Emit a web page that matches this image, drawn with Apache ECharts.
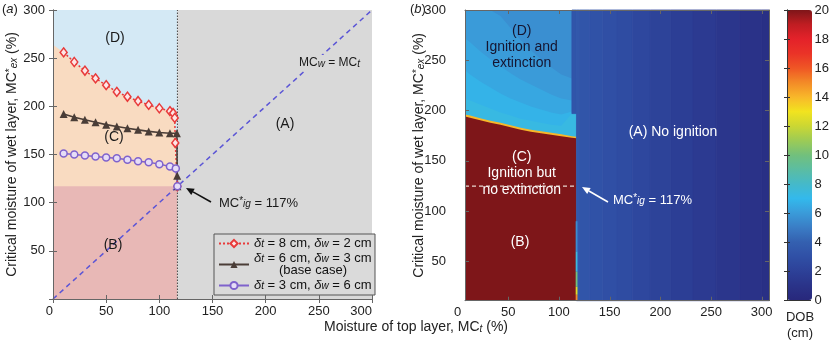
<!DOCTYPE html>
<html><head><meta charset="utf-8">
<script src="https://cdn.jsdelivr.net/npm/echarts@6/dist/echarts.min.js"></script>
<style>html,body{margin:0;padding:0;background:#fff}#c{width:832px;height:341px}</style>
</head><body><div id="c"></div>
<script>
// ================= Panel (a) data =================
const MC_IG = 117;                 // critical ignition moisture (%)
const axisMaxA = 300;
const mcT_case1 = [10,20,30,40,50,60,70,80,90,100,110,113,114.5,115,117];
const mcEx_case1 = [256,246,237,229,222,215,210,205.5,201.5,198,195,193,188,162,117];
const mcT_case2 = [10,20,30,40,50,60,70,80,90,100,110,116.5,116.8,117];
const mcEx_case2 = [192,188.7,186,183.5,181,179,177.3,175.6,174,172.8,172.1,172,128,117];
const mcT_case3 = [10,20,30,40,50,60,70,80,90,100,110,115.5,117];
const mcEx_case3 = [151,150,149,148,147,146,144.5,143,142,140,137.5,135.5,117];
// boundary between regions (C) and (D) (extends case 1 curve to MC_t = 0)
const regionCTopX = [0].concat(mcT_case1);
const regionCTopY = [264].concat(mcEx_case1);
// rectangular regions (D), (B), (A)
const regionX0 = [0, 0, MC_IG];
const regionX1 = [MC_IG, MC_IG, axisMaxA];
const regionY0 = [0, 0, 0];
const regionY1 = [axisMaxA, MC_IG, axisMaxA];
const diagT = [0, 300];

// ================= Panel (b) data (DOB, cm) =================
const yMinB = 11, yMaxB = 300;
const contourX  = [7, 12, 22, 32, 42, 52, 62, 72, 82, 92, 102, 112.5, 117];
const ignTop    = [194, 193, 190.5, 188, 186, 183.5, 181, 179, 177.5, 176, 174.5, 173, 172.5];
const fringeTop = [196, 195, 192.5, 190, 188, 185.5, 183, 181, 179.5, 178, 176.5, 174.5, 174];
const cont7     = [212, 210, 206, 202, 198, 195, 192, 190, 188, 186, 185, 197, 197];
const cont65    = [240, 236, 229, 223, 217, 212, 208, 204, 201, 198, 196, 199, 199];
const cont6     = [272, 268, 259, 251, 244, 237, 231, 226, 221, 216, 212, 210, 210];
const cont58    = [300, 300, 300, 300, 294, 282, 270, 260, 251, 243, 236, 232, 232];
const capTop    = contourX.map(() => yMaxB);
const bandDOB   = [5.6, 6.0, 6.4, 6.8, 7.3, 14, 20];
const bandTops  = [capTop, cont58, cont6, cont65, cont7, fringeTop, ignTop];
// region (A) columns
const aEdges  = [112.5, 117, 120, 130, 143, 157, 172, 190, 210, 232, 255, 278, 300, 307];
const aBottom = [197, 11, 11, 11, 11, 11, 11, 11, 11, 11, 11, 11, 11];
const aDOB    = [3.3, 3.5, 3.3, 3.1, 2.9, 2.7, 2.4, 2.1, 1.8, 1.5, 1.2, 0.9, 0.7];
// thin transition stripe at MC_t = MC_ig
const stripeX  = [116.2, 118];
const stripeYEdges = [11, 17, 25, 40, 60, 90];
const stripeDOB = [15, 12.5, 10, 7.5, 5.5];
const mcIgLineB = 125;   // dashed line as drawn in panel (b)
const mcIgLineBX = [7, 117];
// colour bar
const dobMin = 0, dobMax = 20, dobStep = 2;
const cmap = ['#28287b','#2a3389','#2d4198','#3050a6','#3460b0','#3a7dc5','#3a9bd9','#33b9ec',
  '#45b9c9','#5bbda2','#72c07c','#9dcb55','#cbd733','#f2e31f','#f8b72a','#f38a27','#ef5625',
  '#ea3327','#e4222a','#c01d22','#7e1619'];

// ================= chart =================
const FONT = 'Liberation Sans, Arial, Helvetica, sans-serif';
const chart = echarts.init(document.getElementById('c'));
const zip = (a, b) => a.map((v, i) => [v, b[i]]);
const regionColors = ['#d4e9f5', '#e8b8b6', '#d9d9d9'];
const richSS = {
  it: {fontStyle: 'italic'},
  sub: {fontSize: 10, verticalAlign: 'bottom', fontStyle: 'italic'},
  sup: {fontSize: 10, verticalAlign: 'top'}
};
function rectRender(colorFn, seam) {
  return function (params, api) {
    const p0 = api.coord([api.value(1), api.value(3)]);
    const p1 = api.coord([api.value(2), api.value(4)]);
    const c = colorFn(params, api);
    return {type: 'rect', shape: {x: p0[0], y: p1[1], width: p1[0] - p0[0], height: p0[1] - p1[1]},
      style: seam ? {fill: c, stroke: c, lineWidth: 0.8} : {fill: c}};
  };
}
function arrow(x1, y1, x2, y2, color) {
  const a = Math.atan2(y2 - y1, x2 - x1), L = 8, W = 3.5;
  const bx = x2 - L * Math.cos(a), by = y2 - L * Math.sin(a);
  return [
    {type: 'line', shape: {x1, y1, x2: bx, y2: by}, style: {stroke: color, lineWidth: 1.6}, z: 50},
    {type: 'polygon', shape: {points: [[x2, y2], [bx + W * Math.sin(a), by - W * Math.cos(a)], [bx - W * Math.sin(a), by + W * Math.cos(a)]]},
      style: {fill: color}, z: 50}
  ];
}
function txt(x, y, text, size, color, align, extra) {
  return {type: 'text', x, y, z: 50, style: Object.assign({text, fontSize: size, fontFamily: FONT, fill: color,
    align: align || 'center', verticalAlign: 'middle', rich: richSS}, extra || {})};
}
const axisCol = '#666';
const tickStyle = {show: true, inside: true, length: 4, lineStyle: {color: axisCol}};
const lbl = {fontSize: 13, color: '#222', fontFamily: FONT};
const yName = 'Critical moisture of wet layer, MC{sup|*}{sub|ex} (%)';

const legendLabels = {
  case1: '{it|δ}{sub|t} = 8 cm, {it|δ}{sub|w} = 2 cm',
  case2: '{it|δ}{sub|t} = 6 cm, {it|δ}{sub|w} = 3 cm\n{bc|(base case)}',
  case3: '{it|δ}{sub|t} = 3 cm, {it|δ}{sub|w} = 6 cm'
};
const titleStyle = {fontSize: 13, fontWeight: 'normal', color: '#222', fontFamily: FONT, rich: {it: {fontStyle: 'italic', fontSize: 13}}};

const option = {
  animation: false,
  textStyle: {fontFamily: FONT},
  title: [
    {text: '({it|a})', left: 2, top: 3, padding: 0, textStyle: titleStyle},
    {text: '({it|b})', left: 410, top: 3, padding: 0, textStyle: titleStyle},
    {text: 'Moisture of top layer, MC{sub|t} (%)', left: 'center', top: 320, padding: 0,
      textStyle: {fontSize: 14, fontWeight: 'normal', color: '#222', fontFamily: FONT, rich: richSS}}
  ],
  grid: [
    {left: 53, top: 10, width: 319, height: 289},
    {left: 465, top: 10, width: 304, height: 290.7},
    {left: 457.6, top: 10, width: 311.2, height: 290.7},
    {left: 787, top: 10, width: 25, height: 290}
  ],
  xAxis: [
    {gridIndex: 0, type: 'value', min: 0, max: axisMaxA, interval: 50, z: 10,
      axisLine: {show: true, lineStyle: {color: axisCol}}, axisTick: tickStyle, splitLine: {show: false},
      axisLabel: Object.assign({margin: 6, alignMinLabel: 'right', alignMaxLabel: 'right'}, lbl)},
    {gridIndex: 0, type: 'value', position: 'top', min: 0, max: axisMaxA, interval: 50, z: 10,
      axisLine: {show: true, lineStyle: {color: axisCol}}, axisTick: tickStyle, splitLine: {show: false}, axisLabel: {show: false}},
    {gridIndex: 1, type: 'value', min: 7, max: 307, splitNumber: 6, z: 10,
      axisLine: {show: true, lineStyle: {color: axisCol}}, axisTick: tickStyle, splitLine: {show: false}, axisLabel: {show: false}},
    {gridIndex: 1, type: 'value', position: 'top', min: 7, max: 307, splitNumber: 6, z: 10,
      axisLine: {show: true, lineStyle: {color: axisCol}}, axisTick: tickStyle, splitLine: {show: false}, axisLabel: {show: false}},
    {gridIndex: 2, type: 'value', min: 0, max: 307, splitNumber: 6,
      axisLine: {show: false}, axisTick: {show: false}, splitLine: {show: false},
      axisLabel: Object.assign({margin: 5, showMaxLabel: false}, lbl)},
    {gridIndex: 3, type: 'value', min: 0, max: 1, z: 10,
      axisLine: {show: true, lineStyle: {color: '#333'}}, axisTick: {show: false}, splitLine: {show: false}, axisLabel: {show: false}},
    {gridIndex: 3, type: 'value', position: 'top', min: 0, max: 1, z: 10,
      axisLine: {show: true, lineStyle: {color: '#333'}}, axisTick: {show: false}, splitLine: {show: false}, axisLabel: {show: false}}
  ],
  yAxis: [
    {gridIndex: 0, type: 'value', min: 0, max: axisMaxA, interval: 50, z: 10,
      axisLine: {show: true, lineStyle: {color: axisCol}}, axisTick: tickStyle, splitLine: {show: false},
      axisLabel: Object.assign({margin: 8, showMinLabel: false}, lbl),
      name: yName, nameLocation: 'middle', nameGap: 34, nameMoveOverlap: false,
      nameTextStyle: {fontSize: 14, color: '#222', fontFamily: FONT, rich: richSS}},
    {gridIndex: 0, type: 'value', position: 'right', min: 0, max: axisMaxA, interval: 50, z: 10,
      axisLine: {show: true, lineStyle: {color: axisCol}}, axisTick: tickStyle, splitLine: {show: false}, axisLabel: {show: false}},
    {gridIndex: 1, type: 'value', min: yMinB, max: yMaxB, splitNumber: 6, z: 10,
      axisLine: {show: true, lineStyle: {color: axisCol}}, axisTick: tickStyle, splitLine: {show: false},
      axisLabel: Object.assign({margin: 19, showMinLabel: false}, lbl),
      name: yName, nameLocation: 'middle', nameGap: 39, nameMoveOverlap: false,
      nameTextStyle: {fontSize: 14, color: '#222', fontFamily: FONT, rich: richSS}},
    {gridIndex: 1, type: 'value', position: 'right', min: yMinB, max: yMaxB, splitNumber: 6, z: 10,
      axisLine: {show: true, lineStyle: {color: axisCol}}, axisTick: tickStyle, splitLine: {show: false}, axisLabel: {show: false}},
    {gridIndex: 2, type: 'value', min: 0, max: 1, show: false},
    {gridIndex: 3, type: 'value', position: 'right', min: dobMin, max: dobMax, interval: dobStep, z: 10,
      axisLine: {show: true, lineStyle: {color: '#333'}}, axisTick: {show: true, inside: true, length: 3, lineStyle: {color: '#333'}},
      splitLine: {show: false}, axisLabel: Object.assign({margin: 4}, lbl)},
    {gridIndex: 3, type: 'value', position: 'left', min: dobMin, max: dobMax, interval: dobStep, z: 10,
      axisLine: {show: true, lineStyle: {color: '#333'}}, axisTick: {show: true, inside: true, length: 3, lineStyle: {color: '#333'}},
      splitLine: {show: false}, axisLabel: {show: false}}
  ],
  visualMap: {
    type: 'continuous', min: dobMin, max: dobMax, dimension: 0, seriesIndex: [8, 9, 10],
    inRange: {color: cmap}, calculable: false, realtime: false, hoverLink: false,
    left: 787, top: 10, itemWidth: 25, itemHeight: 290, padding: 0, orient: 'vertical'
  },
  legend: {
    data: ['case1', 'case2', 'case3'], orient: 'vertical', left: 214, top: 234,
    itemWidth: 30, itemHeight: 9, itemGap: 2, padding: [3, 3, 3, 4],
    backgroundColor: '#dadada', borderColor: '#555', borderWidth: 1,
    formatter: n => legendLabels[n],
    textStyle: {fontSize: 13, color: '#111', fontFamily: FONT, lineHeight: 12,
      rich: {it: {fontStyle: 'italic', fontSize: 13, lineHeight: 12},
             sub: {fontSize: 10, verticalAlign: 'bottom', fontStyle: 'italic', lineHeight: 12},
             bc: {width: 118, align: 'center', fontSize: 13, lineHeight: 12}}}
  },
  series: [
    // 0: region D
    {type: 'custom', xAxisIndex: 0, yAxisIndex: 0, silent: true, z: 1,
      data: [[0, regionX0[0], regionX1[0], regionY0[0], regionY1[0]]],
      renderItem: rectRender(() => regionColors[0])},
    // 1: region C (area under the C/D boundary)
    {type: 'line', xAxisIndex: 0, yAxisIndex: 0, silent: true, symbol: 'none', z: 2,
      data: zip(regionCTopX, regionCTopY), lineStyle: {width: 0}, areaStyle: {color: '#f9dbc1', opacity: 1}},
    // 2: regions B and A
    {type: 'custom', xAxisIndex: 0, yAxisIndex: 0, silent: true, z: 3,
      data: [1, 2].map(i => [i, regionX0[i], regionX1[i], regionY0[i], regionY1[i]]),
      renderItem: rectRender((p, api) => regionColors[api.value(0)])},
    // 3: diagonal MCw = MCt
    {type: 'line', xAxisIndex: 0, yAxisIndex: 0, silent: true, symbol: 'none', z: 4,
      data: diagT.map(v => [v, v]), lineStyle: {color: '#5b55d6', width: 1.5, type: [5, 4]}},
    // 4: vertical line at MC_ig
    {type: 'line', xAxisIndex: 0, yAxisIndex: 0, silent: true, symbol: 'none', z: 4,
      data: [[MC_IG, 0], [MC_IG, axisMaxA]], lineStyle: {color: '#444', width: 1, type: [1.5, 1.5]}},
    // 5-7: the three cases
    {name: 'case1', type: 'line', xAxisIndex: 0, yAxisIndex: 0, data: zip(mcT_case1, mcEx_case1), z: 5,
      symbol: 'diamond', symbolSize: [7, 9], showAllSymbol: true,
      lineStyle: {color: '#e83a3a', width: 1.5, type: [2, 2]},
      itemStyle: {color: '#fde6e6', borderColor: '#e83a3a', borderWidth: 1.5}},
    {name: 'case2', type: 'line', xAxisIndex: 0, yAxisIndex: 0, data: zip(mcT_case2, mcEx_case2), z: 5,
      symbol: 'triangle', symbolSize: 8, showAllSymbol: true,
      lineStyle: {color: '#4a3d37', width: 1.6},
      itemStyle: {color: '#4a3d37'}},
    {name: 'case3', type: 'line', xAxisIndex: 0, yAxisIndex: 0, data: zip(mcT_case3, mcEx_case3), z: 5,
      symbol: 'circle', symbolSize: 7, showAllSymbol: true,
      lineStyle: {color: '#7f62cc', width: 1.5},
      itemStyle: {color: '#e6ddf7', borderColor: '#7f62cc', borderWidth: 1.5}},
    // 8: panel b, left region bands
    {type: 'custom', xAxisIndex: 2, yAxisIndex: 2, silent: true, z: 2,
      data: bandDOB.map((v, k) => [v, k]),
      renderItem: function (params, api) {
        const tops = bandTops[api.value(1)];
        const pts = contourX.map((x, i) => api.coord([x, tops[i]]));
        pts.push(api.coord([contourX[contourX.length - 1], yMinB]));
        pts.push(api.coord([contourX[0], yMinB]));
        return {type: 'polygon', shape: {points: pts}, style: {fill: api.visual('color')}};
      }},
    // 9: panel b, region A columns
    {type: 'custom', xAxisIndex: 2, yAxisIndex: 2, silent: true, z: 3,
      data: aDOB.map((v, i) => [v, aEdges[i], aEdges[i + 1], aBottom[i], yMaxB]),
      renderItem: rectRender((p, api) => api.visual('color'), true)},
    // 10: panel b, thin stripe
    {type: 'custom', xAxisIndex: 2, yAxisIndex: 2, silent: true, z: 4,
      data: stripeDOB.map((v, i) => [v, stripeX[0], stripeX[1], stripeYEdges[i], stripeYEdges[i + 1]]),
      renderItem: rectRender((p, api) => api.visual('color'))},
    // 11: panel b dashed MC_ig line
    {type: 'line', xAxisIndex: 2, yAxisIndex: 2, silent: true, symbol: 'none', z: 5,
      data: mcIgLineBX.map(x => [x, mcIgLineB]), lineStyle: {color: '#e8d8d0', width: 1.2, type: [4, 3]}}
  ],
  graphic: [
    txt(115, 38, '(D)', 14, '#1a1a1a'),
    txt(114, 137, '(C)', 14, '#1a1a1a'),
    txt(285, 124, '(A)', 14, '#1a1a1a'),
    txt(113, 245, '(B)', 14, '#1a1a1a'),
    txt(297, 63, 'MC{sub|w} = MC{sub|t}', 12, '#1a1a1a', 'left', {backgroundColor: '#d9d9d9', padding: [2, 2, 2, 2]}),
    txt(219, 203, 'MC{sup|*}{sub|ig} = 117%', 13, '#1a1a1a', 'left'),
    ...arrow(211, 202, 186, 188, '#111'),
    txt(521.7, 31, '(D)', 14, '#151530'),
    txt(521.7, 47.5, 'Ignition and', 14, '#151530'),
    txt(521.7, 63.5, 'extinction', 14, '#151530'),
    txt(521.7, 157, '(C)', 14, '#fff'),
    txt(521.7, 173.5, 'Ignition but', 14, '#fff'),
    txt(521.7, 190.5, 'no extinction', 14, '#fff'),
    txt(520, 242, '(B)', 14, '#fff'),
    txt(673, 132, '(A) No ignition', 14, '#fff'),
    txt(613, 200, 'MC{sup|*}{sub|ig} = 117%', 13, '#fff', 'left'),
    ...arrow(608, 202, 582, 187, '#fff'),
    txt(800, 317, 'DOB', 13, '#222'),
    txt(800, 333, '(cm)', 13, '#222')
  ]
};
chart.setOption(option);
</script></body></html>
